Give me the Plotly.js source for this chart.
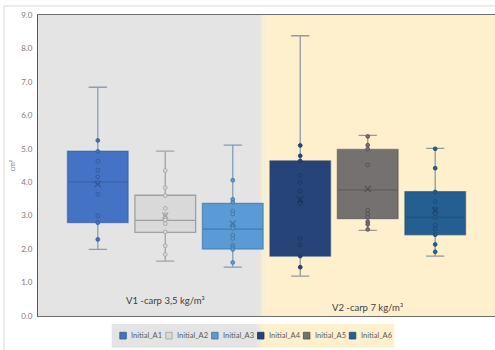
<!DOCTYPE html>
<html>
<head>
<meta charset="utf-8">
<script src="https://cdn.plot.ly/plotly-3.0.1.min.js"></script>
<style>
  html, body { margin: 0; padding: 0; background: #ffffff; }
  #chart { width: 495px; height: 350px; }
</style>
</head>
<body>
<div id="chart"></div>
<script>
// Series names and colours
const series = ['Initial_A1', 'Initial_A2', 'Initial_A3', 'Initial_A4', 'Initial_A5', 'Initial_A6'];
const fillColors = ['#4472C4', '#D9D9D9', '#5B9BD5', '#264478', '#767171', '#255E91'];
const edgeColors = ['#2F5597', '#A0A0A0', '#41719C', '#1C3259', '#4F4B4B', '#1B456B'];
const lineColors = ['rgba(47,85,151,0.5)', 'rgba(120,120,120,0.6)', 'rgba(45,100,160,0.55)',
                    'rgba(38,68,120,0.5)', 'rgba(80,76,76,0.55)', 'rgba(27,69,107,0.5)'];

// Box statistics (cm²)
const lowerWhisker = [1.99, 1.64, 1.46, 1.19, 2.56, 1.79];
const q1           = [2.79, 2.50, 2.00, 1.79, 2.91, 2.43];
const median       = [4.01, 2.86, 2.60, 3.75, 3.77, 2.95];
const q3           = [4.93, 3.61, 3.37, 4.64, 4.98, 3.72];
const upperWhisker = [6.84, 4.93, 5.11, 8.38, 5.40, 5.01];
const means        = [3.94, 3.00, 2.76, 3.48, 3.80, 3.16];

// Inner points shown for each series (whisker ends are drawn by the caps)
const pointsA1 = [5.25, 4.92, 4.63, 4.36, 4.16, 3.99, 3.64, 3.00, 2.79, 2.29];
const pointsA2 = [4.35, 3.84, 3.60, 3.22, 3.03, 2.93, 2.87, 2.76, 2.51, 2.10, 1.84];
const pointsA3 = [4.06, 3.49, 3.40, 3.14, 3.05, 2.71, 2.62, 2.42, 2.32, 2.12, 2.05, 1.99, 1.60];
const pointsA4 = [5.10, 4.79, 4.64, 4.20, 3.99, 3.74, 3.37, 2.32, 2.12, 1.79, 1.46];
const pointsA5 = [5.37, 5.11, 4.99, 4.52, 3.16, 3.05, 2.95, 2.82, 2.74, 2.59];
const pointsA6 = [5.00, 4.42, 3.71, 3.42, 3.20, 3.07, 2.95, 2.72, 2.60, 2.43, 2.14, 1.92];
const allPoints = [pointsA1, pointsA2, pointsA3, pointsA4, pointsA5, pointsA6];

// Treatment groups: label and the series under which it is centred
const groupLabels = ['V1 -carp 3,5 kg/m³', 'V2 -carp 7 kg/m³'];
const groupAnchor = [1, 4];
const groupLabelY = [0.46, 0.24];

const yTicks = [0, 1, 2, 3, 4, 5, 6, 7, 8, 9];

// Plot frame in pixels
const W = 495, H = 350;
const M = { l: 38, r: 0, t: 15, b: 34 };
const PW = W - M.l - M.r, PH = H - M.t - M.b;
const px2x = p => (p - M.l) / PW;
const py2y = p => (H - M.b - p) / PH;

const FONT = 'Lato, "Open Sans", "Liberation Sans", sans-serif';
const GREY_BG = '#E4E4E4', CREAM_BG = '#FFF0CD';
const MIX1 = '#EDE9D8', MIX2 = '#F6EDD2';

const traces = [];

// Boxes
series.forEach((name, i) => {
  traces.push({
    type: 'box',
    name: name,
    x: [name],
    q1: [q1[i]],
    median: [median[i]],
    q3: [q3[i]],
    lowerfence: [lowerWhisker[i]],
    upperfence: [upperWhisker[i]],
    width: 0.9,
    whiskerwidth: 0.3,
    fillcolor: fillColors[i],
    line: { color: lineColors[i], width: 1.3 },
    hoverinfo: 'skip',
    showlegend: false
  });
});

// Inner points
series.forEach((name, i) => {
  traces.push({
    type: 'scatter',
    mode: 'markers',
    x: allPoints[i].map(() => name),
    y: allPoints[i],
    marker: { size: 3.8, color: fillColors[i], line: { color: edgeColors[i], width: 0.8 } },
    hoverinfo: 'y',
    showlegend: false
  });
});

// Mean markers
series.forEach((name, i) => {
  traces.push({
    type: 'scatter',
    mode: 'markers',
    x: [name],
    y: [means[i]],
    marker: { symbol: 'x-thin-open', size: 6, color: edgeColors[i], line: { color: edgeColors[i], width: 1.1 } },
    hoverinfo: 'y',
    showlegend: false
  });
});

// Background bands, outer frame and legend
const split0 = px2x(260), split1 = px2x(262.5), split2 = px2x(265);
const shapes = [
  { type: 'rect', xref: 'paper', yref: 'paper', x0: px2x(4), x1: px2x(W + 20), y0: py2y(H + 20), y1: py2y(6),
    line: { color: '#D9D9D9', width: 1 }, fillcolor: 'rgba(0,0,0,0)', layer: 'below' },
  { type: 'rect', xref: 'paper', yref: 'paper', x0: 0, x1: split0, y0: 0, y1: 1, line: { width: 0 }, fillcolor: GREY_BG, layer: 'below' },
  { type: 'rect', xref: 'paper', yref: 'paper', x0: split0, x1: split1, y0: 0, y1: 1, line: { width: 0 }, fillcolor: MIX1, layer: 'below' },
  { type: 'rect', xref: 'paper', yref: 'paper', x0: split1, x1: split2, y0: 0, y1: 1, line: { width: 0 }, fillcolor: MIX2, layer: 'below' },
  { type: 'rect', xref: 'paper', yref: 'paper', x0: split2, x1: 1, y0: 0, y1: 1, line: { width: 0 }, fillcolor: CREAM_BG, layer: 'below' }
];

const legY0 = py2y(347.7), legY1 = py2y(324);
const legSplit0 = px2x(257), legSplit1 = px2x(260), legSplit2 = px2x(263);
shapes.push(
  { type: 'rect', xref: 'paper', yref: 'paper', x0: px2x(111.7), x1: legSplit0, y0: legY0, y1: legY1, line: { width: 0 }, fillcolor: GREY_BG, layer: 'below' },
  { type: 'rect', xref: 'paper', yref: 'paper', x0: legSplit0, x1: legSplit1, y0: legY0, y1: legY1, line: { width: 0 }, fillcolor: MIX1, layer: 'below' },
  { type: 'rect', xref: 'paper', yref: 'paper', x0: legSplit1, x1: legSplit2, y0: legY0, y1: legY1, line: { width: 0 }, fillcolor: MIX2, layer: 'below' },
  { type: 'rect', xref: 'paper', yref: 'paper', x0: legSplit2, x1: px2x(394.3), y0: legY0, y1: legY1, line: { width: 0 }, fillcolor: CREAM_BG, layer: 'below' }
);

const annotations = [];
series.forEach((name, i) => {
  const sx = 119.8 + 45.9 * i;
  shapes.push({
    type: 'rect', xref: 'paper', yref: 'paper',
    x0: px2x(sx), x1: px2x(sx + 6.5), y0: py2y(339), y1: py2y(332.3),
    fillcolor: fillColors[i], line: { color: edgeColors[i], width: 0.8 }
  });
  annotations.push({
    xref: 'paper', yref: 'paper', x: px2x(sx + 9.5), y: py2y(335.8),
    xanchor: 'left', yanchor: 'middle', showarrow: false,
    text: name, font: { family: FONT, size: 7.5, color: '#595959' }
  });
});

groupLabels.forEach((label, g) => {
  annotations.push({
    xref: 'x', yref: 'y', x: series[groupAnchor[g]], y: groupLabelY[g],
    xanchor: 'center', yanchor: 'middle', showarrow: false,
    text: label, font: { family: FONT, size: 9.5, color: '#404040' }
  });
});

const layout = {
  width: W, height: H,
  margin: M,
  paper_bgcolor: '#ffffff',
  plot_bgcolor: 'rgba(0,0,0,0)',
  showlegend: false,
  boxmode: 'overlay',
  font: { family: FONT },
  xaxis: {
    type: 'category',
    categoryorder: 'array',
    categoryarray: series,
    range: [-0.886, 5.886],
    showticklabels: false,
    ticks: '',
    showgrid: false,
    zeroline: false,
    showline: true,
    mirror: true,
    linecolor: '#6E6E6E',
    linewidth: 1,
    fixedrange: true
  },
  yaxis: {
    range: [0, 9],
    tickvals: yTicks,
    tickformat: '.1f',
    ticks: '',
    ticklabelstandoff: 3,
    tickfont: { family: FONT, size: 8, color: '#7A7A7A' },
    showgrid: false,
    zeroline: false,
    showline: true,
    linecolor: '#5A5A5A',
    linewidth: 1,
    automargin: false,
    title: { text: 'cm²', standoff: 4, font: { family: FONT, size: 7, color: '#7A7A7A' } },
    fixedrange: true
  },
  shapes: shapes,
  annotations: annotations
};

Plotly.newPlot('chart', traces, layout, { displayModeBar: false, staticPlot: true });
</script>
</body>
</html>
